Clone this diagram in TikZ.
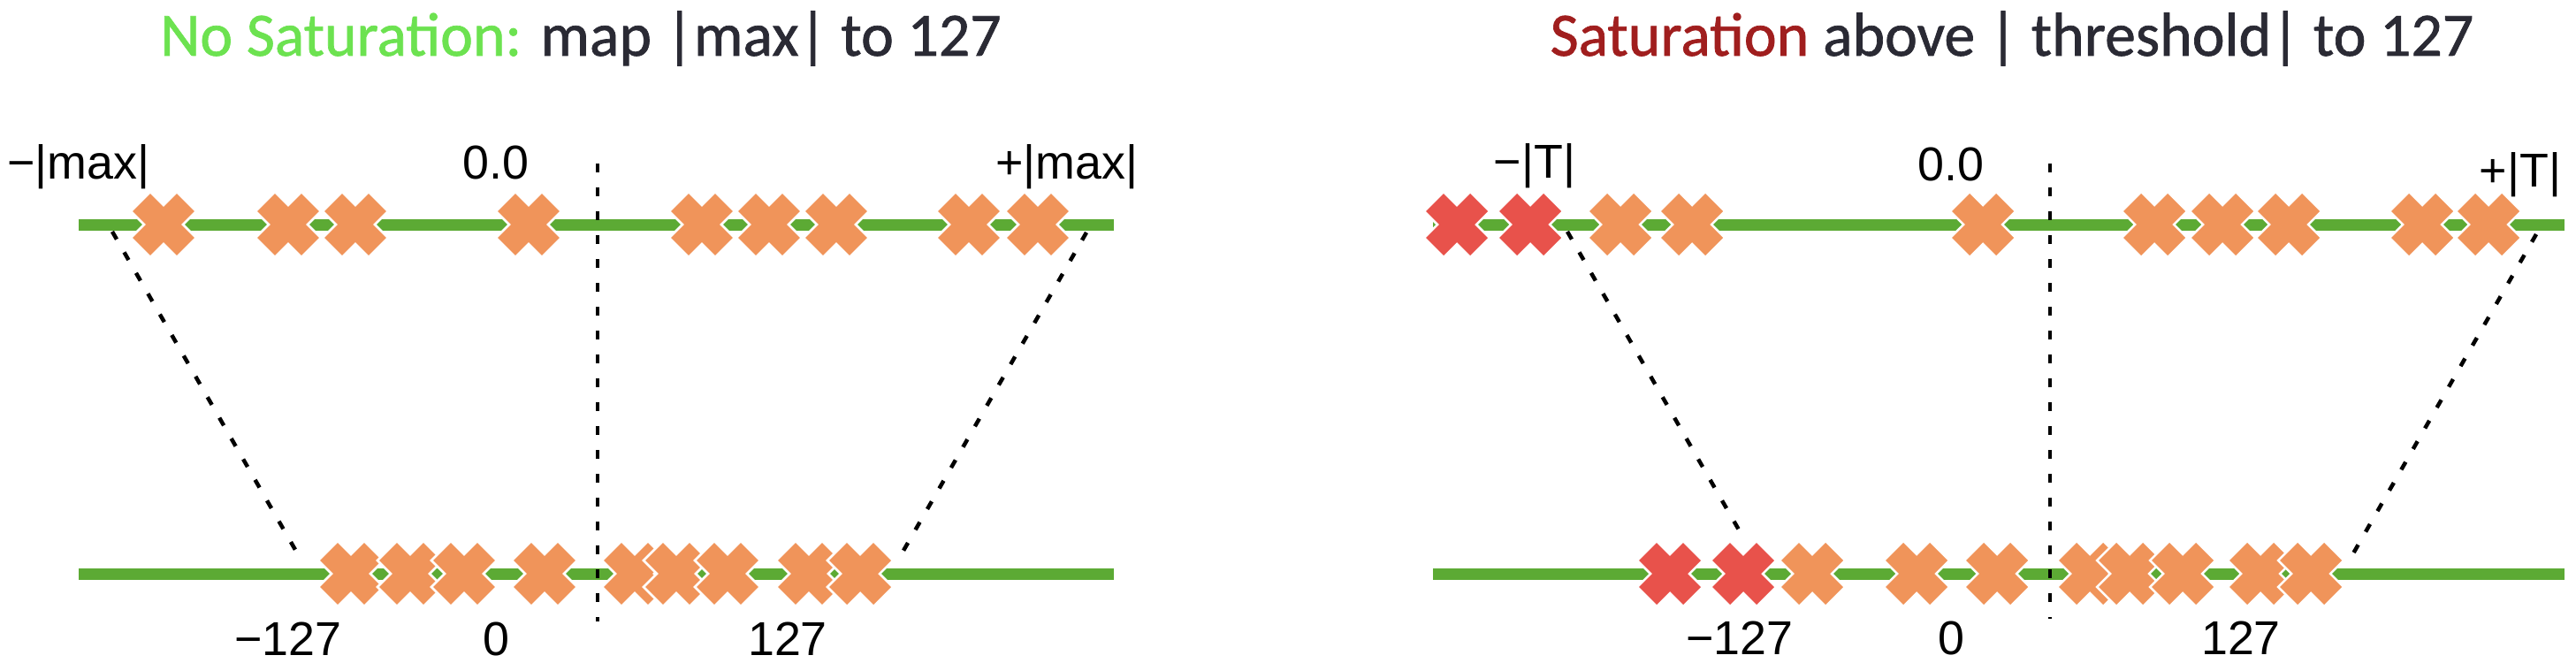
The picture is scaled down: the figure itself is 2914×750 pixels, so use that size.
\documentclass[tikz,border=0pt]{standalone}
\usepackage{fontspec}
\setmainfont{Liberation Sans}
\newfontfamily\titlefont{Carlito}[FakeBold=1]
\definecolor{lineGreen}{RGB}{92,170,52}
\definecolor{xOrange}{RGB}{240,148,90}
\definecolor{xRed}{RGB}{232,82,75}
\definecolor{ttlGreen}{RGB}{108,226,80}
\definecolor{ttlRed}{RGB}{160,30,30}
\definecolor{ttlGray}{RGB}{42,42,52}
\tikzset{
  numline/.style={draw=lineGreen, line width=13bp},
  mapline/.style={draw=black, line width=4.5bp, dash pattern=on 10bp off 17bp},
  lbl/.style={inner sep=0pt, anchor=base, font=\fontsize{54}{60}\selectfont},
  ttl/.style={inner sep=0pt, anchor=base, text=ttlGray, font=\titlefont\fontsize{70}{80}\selectfont},
  pics/xmark/.style={code={
    \fill[#1, draw=white, line width=2.5bp]
      (0,-22)--(15,-37)--(37,-15)--(22,0)--(37,15)--(15,37)--(0,22)
      --(-15,37)--(-37,15)--(-22,0)--(-37,-15)--(-15,-37)--cycle;}},
}
\begin{document}
\begin{tikzpicture}[x=1bp, y=-1bp]
\useasboundingbox (0,0) rectangle (2914,750);

% ---------- titles ----------
\node[ttl] (titleL) at (657,63) {\textcolor{ttlGreen}{No Saturation:} map |max| to 127};
\node[ttl] (titleR) at (2276,63) {\textcolor{ttlRed}{Saturation} above | threshold| to 127};

% ---------- number lines ----------
\coordinate (LTa) at (89,254);   \coordinate (LTb) at (1260,254);
\coordinate (LBa) at (89,649);   \coordinate (LBb) at (1260,649);
\coordinate (RTa) at (1621,254); \coordinate (RTb) at (2901,254);
\coordinate (RBa) at (1621,649); \coordinate (RBb) at (2901,649);
\draw[numline] (LTa) -- (LTb);
\draw[numline] (LBa) -- (LBb);
\draw[numline] (RTa) -- (RTb);
\draw[numline] (RBa) -- (RBb);

% ---------- zero lines ----------
\coordinate (LZt) at (676,185);  \coordinate (LZb) at (676,703);
\coordinate (RZt) at (2319,185); \coordinate (RZb) at (2319,700);
\draw[mapline] (LZt) -- (LZb);
\draw[mapline] (RZt) -- (RZb);

% ---------- mapping lines ----------
\coordinate (LminT) at (127,262);  \coordinate (LminB) at (341,634);
\coordinate (LmaxT) at (1229,263); \coordinate (LmaxB) at (1015,635);
\coordinate (RminT) at (1773,262); \coordinate (RminB) at (1972,608);
\coordinate (RmaxT) at (2869,265); \coordinate (RmaxB) at (2658,633);
\draw[mapline] (LminT) -- (LminB);
\draw[mapline] (LmaxT) -- (LmaxB);
\draw[mapline] (RminT) -- (RminB);
\draw[mapline] (RmaxT) -- (RmaxB);

% ---------- crosses, left panel ----------
\foreach \x [count=\i] in {185,326,402,598,794,870,946,1096,1174}
  \pic (lt\i) at (\x,254) {xmark=xOrange};
\foreach \x [count=\i] in {397,464,525,616,718,765,823,915,973}
  \pic (lb\i) at (\x,649) {xmark=xOrange};

% ---------- crosses, right panel ----------
\pic (rtR1) at (1648,254) {xmark=xRed};
\pic (rtR2) at (1731,254) {xmark=xRed};
\foreach \x [count=\i] in {1833,1914,2243,2437,2514,2589,2740,2815}
  \pic (rt\i) at (\x,254) {xmark=xOrange};
\pic (rbR1) at (1889,649) {xmark=xRed};
\pic (rbR2) at (1972,649) {xmark=xRed};
\foreach \x [count=\i] in {2050,2168,2259,2364,2409,2469,2557,2614}
  \pic (rb\i) at (\x,649) {xmark=xOrange};

% ---------- labels, left panel ----------
\node[lbl] (lMinMax) at (89,202) {−|max|};
\node[lbl] (lZeroF) at (561,202) {0.0};
\node[lbl] (lMaxMax) at (1207,202) {+|max|};
\node[lbl] (lMinI) at (326,741) {−127};
\node[lbl] (lZeroI) at (561,741) {0};
\node[lbl] (lMaxI) at (891,741) {127};

% ---------- labels, right panel ----------
\node[lbl] (rMinT) at (1736,201) {−|T|};
\node[lbl] (rZeroF) at (2207,204) {0.0};
\node[lbl] (rMaxT) at (2851,211) {+|T|};
\node[lbl] (rMinI) at (1968,740) {−127};
\node[lbl] (rZeroI) at (2207,740) {0};
\node[lbl] (rMaxI) at (2535,740) {127};
\end{tikzpicture}
\end{document}
